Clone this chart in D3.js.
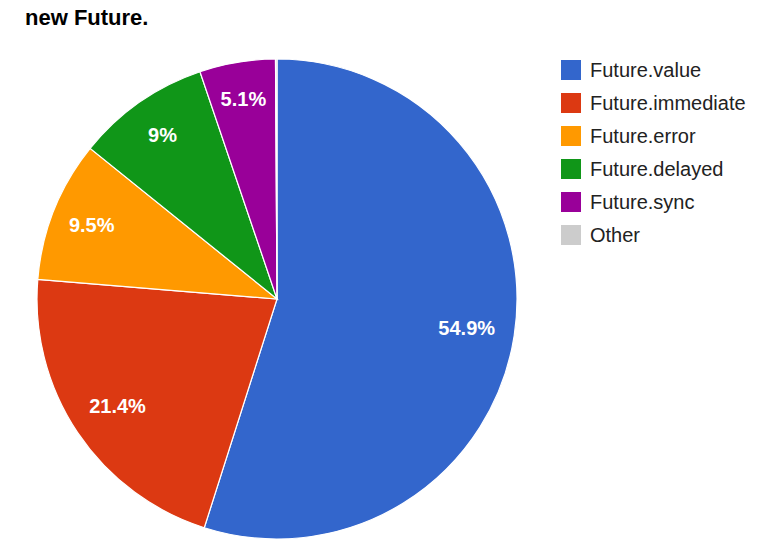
<!DOCTYPE html>
<html><head><meta charset="utf-8">
<script src="https://cdn.jsdelivr.net/npm/d3@7"></script>
<style>body{margin:0;background:#fff;}svg{display:block;font-family:"Liberation Sans",Arial,sans-serif;}</style>
</head><body>
<svg id="chart" width="759" height="542"></svg>
<script>
const categories = ["Future.value","Future.immediate","Future.error","Future.delayed","Future.sync","Other"];
const values = [54.9, 21.4, 9.5, 9, 5.1, 0.1];
const labels = ["54.9%","21.4%","9.5%","9%","5.1%",""];
const colors = ["#3366cc","#dc3912","#ff9900","#109618","#990099","#cccccc"];
const title = "new Future.";

const svg = d3.select("#chart");
const cx = 277, cy = 299, r = 240;
const data = categories.map((c,i)=>({name:c,value:values[i],label:labels[i],color:colors[i]}));
const pie = d3.pie().value(d=>d.value).sort(null);
const arcs = pie(data);
const arc = d3.arc().innerRadius(0).outerRadius(r);
function labelPos(d){
  const f = 0.80 + 0.06*(1 - Math.min(1, d.data.value/20));
  return d3.arc().innerRadius(r*f).outerRadius(r*f).centroid(d);
}

const g = svg.append("g").attr("transform",`translate(${cx},${cy})`);
g.selectAll("path").data(arcs).join("path")
  .attr("d",arc).attr("fill",d=>d.data.color)
  .attr("stroke","#fff").attr("stroke-width",1.2);
g.selectAll("text").data(arcs.filter(d=>d.data.label)).join("text")
  .attr("transform",d=>`translate(${labelPos(d)})`)
  .attr("text-anchor","middle").attr("dy","0.35em")
  .attr("fill","#fff").attr("font-weight","bold").attr("font-size",20)
  .text(d=>d.data.label);

svg.append("text").attr("x",25).attr("y",25)
  .attr("font-weight","bold").attr("font-size",22).attr("fill","#000").text(title);

const leg = svg.append("g").attr("transform","translate(561,60)");
const rows = leg.selectAll("g").data(data).join("g")
  .attr("transform",(d,i)=>`translate(0,${i*33})`);
rows.append("rect").attr("width",20).attr("height",20).attr("fill",d=>d.color);
rows.append("text").attr("x",29).attr("y",10).attr("dy","0.36em")
  .attr("font-size",20).attr("fill","#222").text(d=>d.name);
</script>
</body></html>
